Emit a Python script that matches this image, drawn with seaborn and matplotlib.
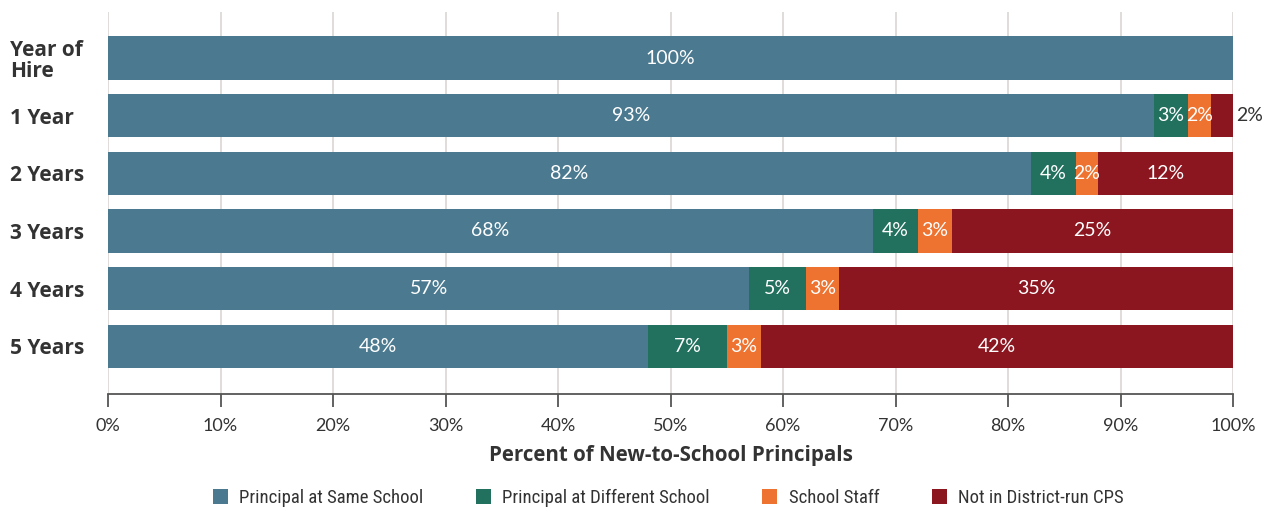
import numpy as np
import pandas as pd
import matplotlib
matplotlib.use("Agg")
import matplotlib.pyplot as plt
from matplotlib import font_manager
from matplotlib.patches import Patch
import seaborn as sns

# Tenure after hire and where new-to-school principals ended up (percent)
periods = ["Year of\nHire", "1 Year", "2 Years", "3 Years", "4 Years", "5 Years"]
same_school = [100, 93, 82, 68, 57, 48]
diff_school = [0, 3, 4, 4, 5, 7]
school_staff = [0, 2, 2, 3, 3, 3]
not_in_cps = [0, 2, 12, 25, 35, 42]

series_names = ["Principal at Same School", "Principal at Different School",
                "School Staff", "Not in District-run CPS"]
series_values = [same_school, diff_school, school_staff, not_in_cps]
palette = ["#4b7a90", "#22705e", "#ee7230", "#8c1620"]

sns.set_theme(style="white")
plt.rcParams["font.family"] = ["Lato", "DejaVu Sans"]

available = {f.name for f in font_manager.fontManager.ttflist}
legend_family = next((f for f in ["Roboto Condensed", "Liberation Sans Narrow", "Roboto"]
                      if f in available), "DejaVu Sans")
heading_family = next((f for f in ["Open Sans", "Lato"] if f in available), "DejaVu Sans")

df = pd.DataFrame({"period": periods})
for name, vals in zip(series_names, series_values):
    df[name] = vals
cum = df[series_names].cumsum(axis=1)

fig = plt.figure(figsize=(12.78, 5.08), dpi=100)
ax = fig.add_axes([108 / 1278, 1 - 394 / 508, (1233 - 108) / 1278, (394 - 12) / 508])

# Stacked bars: draw the cumulative totals from the outermost layer inwards
for name, color in reversed(list(zip(series_names, palette))):
    sns.barplot(x=cum[name], y=df["period"], orient="h", color=color,
                width=0.75, saturation=1, ax=ax, linewidth=0, zorder=3)

# Segment value labels; the thin last segment of "1 Year" is labelled outside
for i in range(len(periods)):
    left = 0
    for j, name in enumerate(series_names):
        v = df.loc[i, name]
        if v > 0:
            if i == 1 and j == 3:
                ax.text(101.5, i, f"{v}%", ha="center", va="center",
                        color="#333333", fontsize=14, zorder=5)
            else:
                ax.text(left + v / 2, i, f"{v}%", ha="center", va="center",
                        color="white", fontsize=14, zorder=5)
        left += v

ax.set_xlim(0, 100)
ax.set_ylim(5.83, -0.8)
ax.set_xticks(np.arange(0, 101, 10))
ax.set_xticklabels([f"{t}%" for t in range(0, 101, 10)], fontsize=13, color="#333333")
ax.grid(axis="x", color="#dcd9d5", linewidth=1.3, zorder=0)
ax.grid(axis="y", visible=False)
ax.set_axisbelow(True)

for s in ["top", "right", "left"]:
    ax.spines[s].set_visible(False)
ax.spines["bottom"].set_color("#555555")
ax.spines["bottom"].set_linewidth(1.3)
ax.tick_params(axis="x", bottom=True, length=9, width=1.3, color="#555555", pad=8)
ax.tick_params(axis="y", left=False, length=0, pad=70.5)
for lbl in ax.get_yticklabels():
    lbl.set_horizontalalignment("left")
    lbl.set_fontfamily(heading_family)
    lbl.set_fontweight("bold")
    lbl.set_fontsize(15)
    lbl.set_color("#333333")
    lbl.set_linespacing(1.0)

ax.set_ylabel("")
ax.set_xlabel("Percent of New-to-School Principals", fontsize=14.8, fontweight="bold",
              fontfamily=heading_family, color="#333333", labelpad=8)

handles = [Patch(facecolor=c, edgecolor="none") for c in palette]
fig.legend(handles, series_names, loc="center", bbox_to_anchor=(0.523, 0.02), ncol=4,
           frameon=False, prop={"family": legend_family, "size": 13.5},
           handlelength=0.8, handleheight=0.8, handletextpad=0.6, columnspacing=2.8,
           labelcolor="#333333")

fig.savefig("out.png", dpi=100, facecolor="white")
